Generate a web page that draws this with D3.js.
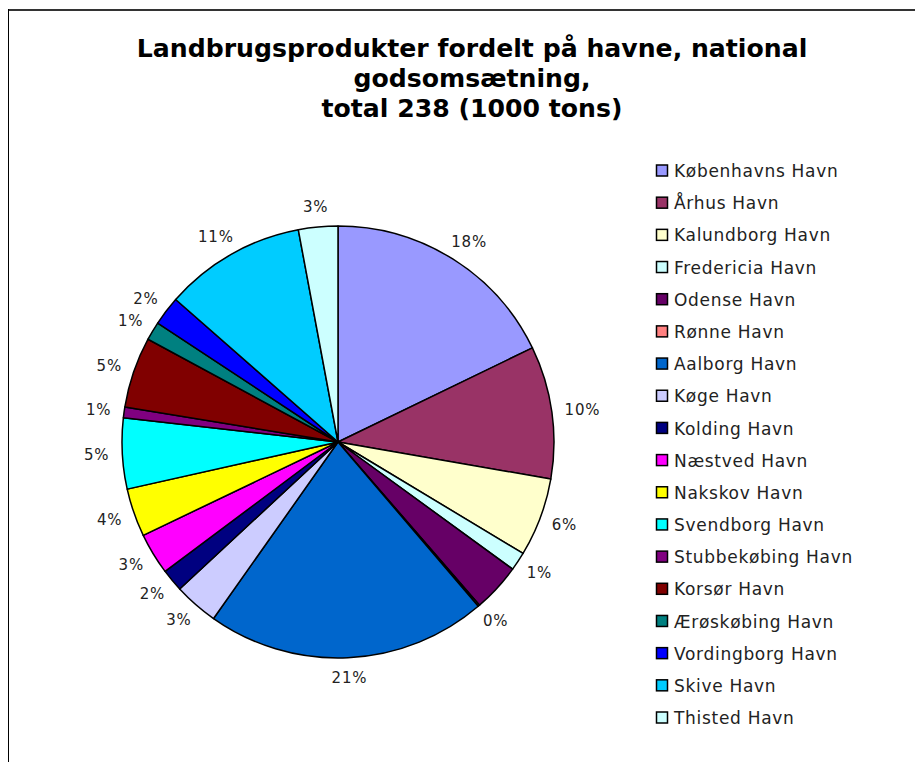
<!DOCTYPE html>
<html>
<head>
<meta charset="utf-8">
<script src="https://cdn.jsdelivr.net/npm/d3@7"></script>
<style>
  html, body { margin: 0; padding: 0; background: #fff; }
  svg { display: block; }
</style>
</head>
<body>
<svg id="chart" width="915" height="762"></svg>
<script>
// ---- data (1000 tons) ----
const titleLines = ["Landbrugsprodukter fordelt på havne, national", "godsomsætning,", "total 238 (1000 tons)"];
const ports = ["Københavns Havn", "Århus Havn", "Kalundborg Havn", "Fredericia Havn", "Odense Havn", "Rønne Havn",
  "Aalborg Havn", "Køge Havn", "Kolding Havn", "Næstved Havn", "Nakskov Havn", "Svendborg Havn",
  "Stubbekøbing Havn", "Korsør Havn", "Ærøskøbing Havn", "Vordingborg Havn", "Skive Havn", "Thisted Havn"];
const tons = [42.4, 23.6, 14.0, 3.3, 8.6, 0.3, 50.0, 7.9, 4.0, 7.4, 8.6, 12.6, 1.9, 12.6, 3.3, 5.2, 25.2, 7.0];
const colors = ["#9999FF", "#993366", "#FFFFCC", "#CCFFFF", "#660066", "#FF8080", "#0066CC", "#CCCCFF", "#000080",
  "#FF00FF", "#FFFF00", "#00FFFF", "#800080", "#800000", "#008080", "#0000FF", "#00CCFF", "#CCFFFF"];
const hiddenLabels = ["Odense Havn"];

const svg = d3.select("#chart");

// frame
svg.append("line").attr("x1", 8).attr("x2", 915).attr("y1", 10).attr("y2", 10)
  .attr("stroke", "#333").attr("stroke-width", 2);
svg.append("line").attr("x1", 8.5).attr("x2", 8.5).attr("y1", 9).attr("y2", 762)
  .attr("stroke", "#000").attr("stroke-width", 1);

// title
const title = svg.append("g").attr("font-family", "DejaVu Sans, Verdana, sans-serif")
  .attr("font-weight", "bold").attr("fill", "#000").attr("text-anchor", "middle");
const t0 = title.append("text").attr("x", 472).attr("y", 57).attr("font-size", 22).text(titleLines[0]);
const w0 = t0.node().getComputedTextLength();
const titleSize = 22 * 671 / w0;
t0.attr("font-size", titleSize);
titleLines.slice(1).forEach((l, i) => {
  title.append("text").attr("x", 472).attr("y", 57 + 30 * (i + 1)).attr("font-size", titleSize).text(l);
});

// pie
const cx = 338, cy = 442, R = 216;
const total = d3.sum(tons);
const data = ports.map((p, i) => ({ name: p, value: tons[i], color: colors[i] }));
const pie = d3.pie().value(d => d.value).sort(null).startAngle(0).endAngle(2 * Math.PI);
const arcs = pie(data);
const arc = d3.arc().innerRadius(0).outerRadius(R);

const g = svg.append("g").attr("transform", `translate(${cx},${cy})`);
g.selectAll("path").data(arcs).join("path")
  .attr("d", arc)
  .attr("fill", d => d.data.color)
  .attr("stroke", "#000").attr("stroke-width", 1.5).attr("stroke-linejoin", "round");

// percent labels
const lab = g.append("g").attr("font-family", "DejaVu Sans, Verdana, sans-serif")
  .attr("font-size", 15).attr("letter-spacing", 0.8).attr("fill", "#222");
arcs.forEach(a => {
  if (hiddenLabels.includes(a.data.name)) return;
  const txt = Math.round(a.data.value / total * 100) + "%";
  const m = (a.startAngle + a.endAngle) / 2;
  const s = Math.sin(m), c = -Math.cos(m);
  const t = lab.append("text").attr("text-anchor", "middle").attr("dy", "0.36em").text(txt);
  const w = t.node().getComputedTextLength();
  const r = R + 13;
  const x = r * s + (w / 2) * s;
  const y = r * c + 7 * c;
  t.attr("x", x).attr("y", y);
});

// legend
const leg = svg.append("g").attr("font-family", "DejaVu Sans, Verdana, sans-serif")
  .attr("font-size", 17).attr("letter-spacing", 0.7).attr("fill", "#222");
const rowY = d3.scaleLinear().domain([0, ports.length - 1]).range([171, 718]);
data.forEach((d, i) => {
  const y = rowY(i);
  leg.append("rect").attr("x", 656.5).attr("y", y - 6).attr("width", 11).attr("height", 11)
    .attr("fill", d.color).attr("stroke", "#000").attr("stroke-width", 1.5);
  leg.append("text").attr("x", 674).attr("y", y).attr("dy", "0.36em").text(d.name);
});
</script>
</body>
</html>
